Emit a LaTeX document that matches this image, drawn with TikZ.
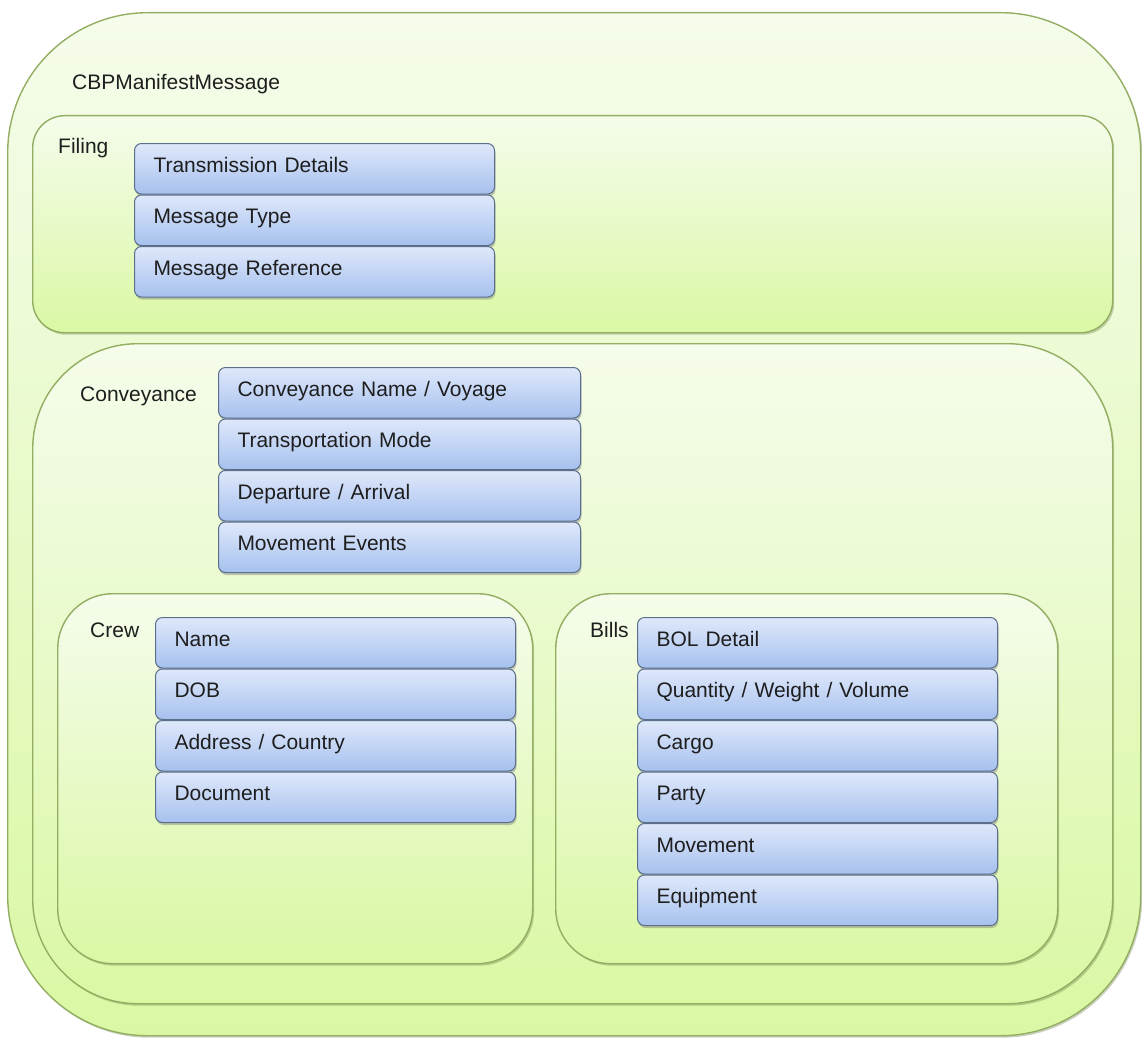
\documentclass[tikz,border=0pt]{standalone}
\usepackage{fontspec}
\setmainfont{Liberation Sans}
\usetikzlibrary{shadows}
\definecolor{gborder}{HTML}{93AE62}
\definecolor{gtop}{HTML}{F5FCEB}
\definecolor{gbot}{HTML}{DAF8A4}
\definecolor{btop}{HTML}{DFE8FB}
\definecolor{bbot}{HTML}{A6C1EE}
\definecolor{bborder}{HTML}{5B6F8C}
\definecolor{txt}{HTML}{1E1E1E}
\tikzset{
  container/.style={draw=gborder, line width=1.4pt, top color=gtop, bottom color=gbot,
    inner sep=0pt, anchor=north west,
    drop shadow={shadow xshift=1.5pt, shadow yshift=-2pt, opacity=0.35, fill=gborder!70!black}},
  stepbox/.style={draw=bborder, line width=1pt, rounded corners=7pt, top color=btop, bottom color=bbot,
    anchor=north west, inner xsep=19pt, inner ysep=0pt, text width=#1, align=left,
    text height=15pt, text depth=8pt, minimum height=50.5pt, text=txt,
    font=\fontsize{21}{25}\selectfont,
    drop shadow={shadow xshift=1pt, shadow yshift=-2.5pt, opacity=0.4, fill=black!55}},
  stepbox/.default=322pt,
  lbl/.style={anchor=base west, inner sep=0pt, text=txt, font=\fontsize{21}{25}\selectfont}
}
\begin{document}
\begin{tikzpicture}[x=1pt, y=-1pt]
\useasboundingbox (0,0) rectangle (1142,1038);
% containers
\node[container, rounded corners=140pt, minimum width=1133pt, minimum height=1023pt] (msg) at (7,12) {};
\node[lbl] (msglbl) at (72,90) {CBPManifestMessage};

\node[container, rounded corners=32pt, minimum width=1080pt, minimum height=217pt] (filing) at (32,115) {};
\node[lbl] (filinglbl) at (58,153) {Filing};

\node[container, rounded corners=105pt, minimum width=1080pt, minimum height=660pt] (conv) at (32,343) {};
\node[lbl] (convlbl) at (80,401) {Conveyance};

\node[container, rounded corners=55pt, minimum width=475pt, minimum height=370pt] (crew) at (57,593) {};
\node[lbl] (crewlbl) at (90,637) {Crew};

\node[container, rounded corners=55pt, minimum width=502pt, minimum height=370pt] (bills) at (555,593) {};
\node[lbl] (billslbl) at (590,637) {Bills};

% filing items
\node[stepbox] (f1) at (134,143) {Transmission Details};
\node[stepbox] (f2) at (f1.south west) {Message Type};
\node[stepbox] (f3) at (f2.south west) {Message Reference};

% conveyance items
\node[stepbox=324pt] (c1) at (218,367) {Conveyance Name / Voyage};
\node[stepbox=324pt] (c2) at (c1.south west) {Transportation Mode};
\node[stepbox=324pt] (c3) at (c2.south west) {Departure / Arrival};
\node[stepbox=324pt] (c4) at (c3.south west) {Movement Events};

% crew items
\node[stepbox] (w1) at (155,617) {Name};
\node[stepbox] (w2) at (w1.south west) {DOB};
\node[stepbox] (w3) at (w2.south west) {Address / Country};
\node[stepbox] (w4) at (w3.south west) {Document};

% bills items
\node[stepbox] (b1) at (637,617) {BOL Detail};
\node[stepbox] (b2) at (b1.south west) {Quantity / Weight / Volume};
\node[stepbox] (b3) at (b2.south west) {Cargo};
\node[stepbox] (b4) at (b3.south west) {Party};
\node[stepbox] (b5) at (b4.south west) {Movement};
\node[stepbox] (b6) at (b5.south west) {Equipment};
\end{tikzpicture}
\end{document}
